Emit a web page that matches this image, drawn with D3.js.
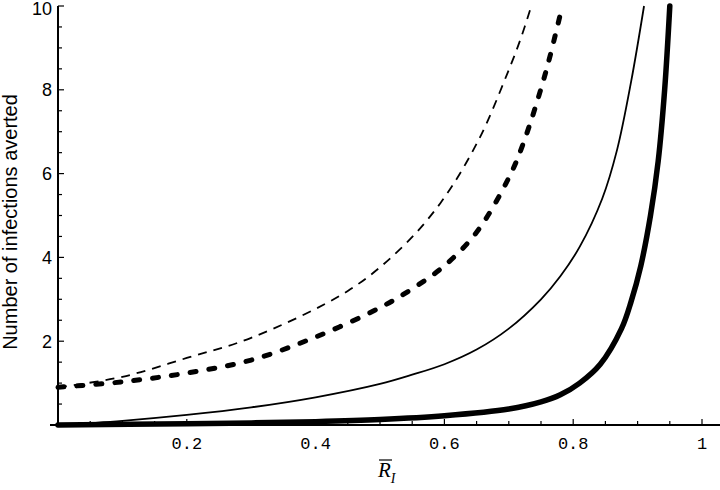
<!DOCTYPE html>
<html>
<head>
<meta charset="utf-8">
<script src="https://cdn.jsdelivr.net/npm/d3@7"></script>
<style>
  body { margin: 0; background: #fff; }
  svg { display: block; }
</style>
</head>
<body>
<div id="chart"></div>
<script>
// values, curve by curve
var xThinDash  = [0, 0.1, 0.2, 0.3, 0.45, 0.53, 0.594, 0.653, 0.698, 0.718, 0.735];
var yThinDash  = [0.9, 1.15, 1.6, 2.08, 3.2, 4.18, 5.3, 6.8, 8.4, 9.2, 10];

var xThickDash = [0, 0.1, 0.2, 0.3, 0.4, 0.5, 0.55, 0.6, 0.65, 0.7, 0.722, 0.757, 0.783];
var yThickDash = [0.9, 1.03, 1.24, 1.55, 2.1, 2.8, 3.25, 3.8, 4.6, 5.9, 6.7, 8.4, 10];

var xThinSolid = [0, 0.1, 0.2, 0.3, 0.4, 0.5, 0.55, 0.6, 0.65, 0.7, 0.75, 0.78, 0.81, 0.845, 0.868, 0.89, 0.91];
var yThinSolid = [0, 0.1, 0.24, 0.42, 0.66, 0.98, 1.2, 1.45, 1.8, 2.3, 3.0, 3.55, 4.25, 5.4, 6.56, 8.2, 10];

var xThickSolid = [0, 0.2, 0.3, 0.4, 0.5, 0.6, 0.7, 0.75, 0.78, 0.81, 0.842, 0.875, 0.89, 0.905, 0.92, 0.932, 0.942, 0.95];
var yThickSolid = [0, 0.03, 0.05, 0.08, 0.13, 0.22, 0.38, 0.55, 0.72, 1.0, 1.45, 2.3, 2.95, 3.8, 5.0, 6.3, 8.0, 10];

var xMajor = [0.2, 0.4, 0.6, 0.8, 1];
var xMajorLabels = ["0.2", "0.4", "0.6", "0.8", "1"];
var yMajor = [2, 4, 6, 8, 10];

var W = 720, H = 490;
var margin = {top: 6, right: 18, bottom: 65, left: 58},
  width = W - margin.left - margin.right,
  height = H - margin.top - margin.bottom;

var svg = d3.select("#chart")
  .append("svg")
  .attr("width", W)
  .attr("height", H)
  .append("g")
  .attr("transform", "translate(" + margin.left + "," + margin.top + ")");

var x = d3.scaleLinear().domain([0, 1]).range([0, width]);
var y = d3.scaleLinear().domain([0, 10]).range([height, 0]);

// x axis: line runs a bit past the y axis, ticks point up into the plot
var xMinor = d3.range(1, 21).map(function(i) { return i * 0.05; })
  .filter(function(v) { return xMajor.every(function(m) { return Math.abs(m - v) > 1e-6; }); });

svg.append("line")
  .attr("x1", -8).attr("x2", W - margin.left)
  .attr("y1", y(0)).attr("y2", y(0))
  .attr("stroke", "#000").attr("stroke-width", 2);

svg.selectAll(".xminor")
  .data(xMinor).enter().append("line")
  .attr("x1", function(d) { return x(d); }).attr("x2", function(d) { return x(d); })
  .attr("y1", y(0)).attr("y2", y(0) - 4)
  .attr("stroke", "#000").attr("stroke-width", 1.2);

svg.selectAll(".xmajor")
  .data(xMajor).enter().append("line")
  .attr("x1", function(d) { return x(d); }).attr("x2", function(d) { return x(d); })
  .attr("y1", y(0)).attr("y2", y(0) - 6)
  .attr("stroke", "#000").attr("stroke-width", 1.2);

svg.selectAll(".xlab")
  .data(xMajor).enter().append("text")
  .attr("x", function(d) { return x(d); })
  .attr("y", y(0) + 24)
  .attr("text-anchor", "middle")
  .attr("font-family", "Liberation Mono, DejaVu Sans Mono, monospace")
  .attr("font-size", "17px")
  .text(function(d, i) { return xMajorLabels[i]; });

// y axis, ticks point right into the plot
var yMinor = d3.range(1, 20).map(function(i) { return i * 0.5; })
  .filter(function(v) { return v % 2 !== 0; });

svg.append("line")
  .attr("x1", x(0)).attr("x2", x(0))
  .attr("y1", y(0)).attr("y2", y(10))
  .attr("stroke", "#000").attr("stroke-width", 2);

svg.selectAll(".yminor")
  .data(yMinor).enter().append("line")
  .attr("x1", x(0)).attr("x2", x(0) + 4)
  .attr("y1", function(d) { return y(d); }).attr("y2", function(d) { return y(d); })
  .attr("stroke", "#000").attr("stroke-width", 1.2);

svg.selectAll(".ymajor")
  .data(yMajor).enter().append("line")
  .attr("x1", x(0)).attr("x2", x(0) + 6)
  .attr("y1", function(d) { return y(d); }).attr("y2", function(d) { return y(d); })
  .attr("stroke", "#000").attr("stroke-width", 1.2);

svg.selectAll(".ylab")
  .data(yMajor).enter().append("text")
  .attr("x", x(0) - 6)
  .attr("y", function(d) { return y(d) + (d === 10 ? 3 : 0); })   // top one sits a bit lower, like the original
  .attr("dy", "0.36em")
  .attr("text-anchor", "end")
  .attr("font-family", "Liberation Sans, Arial, sans-serif")
  .attr("font-size", "18px")
  .text(function(d) { return d; });

// axis titles
svg.append("text")
  .attr("transform", "translate(" + (17 - margin.left) + "," + 216 + ") rotate(-90)")
  .attr("text-anchor", "middle")
  .attr("font-family", "Liberation Sans, Arial, sans-serif")
  .attr("font-size", "20px")
  .text("Number of infections averted");

var xt = svg.append("text")
  .attr("x", 320)
  .attr("y", y(0) + 52)
  .attr("font-family", "Liberation Serif, DejaVu Serif, serif")
  .attr("font-style", "italic")
  .attr("font-size", "21px");
var rPart = xt.append("tspan").text("R");
xt.append("tspan").attr("dy", 6).attr("font-size", "14px").text("I");
// bar over the R
var rb = rPart.node().getBBox();
svg.append("line")
  .attr("x1", rb.x + 2).attr("x2", rb.x + rb.width + 1)
  .attr("y1", rb.y + 2).attr("y2", rb.y + 2)
  .attr("stroke", "#000").attr("stroke-width", 1.2);

// curves
var line = d3.line()
  .x(function(d) { return x(d[0]); })
  .y(function(d) { return y(d[1]); })
  .curve(d3.curveCatmullRom.alpha(0.5));

function pairs(xs, ys) { return xs.map(function(v, i) { return [v, ys[i]]; }); }

var curves = [
  {xs: xThinDash,  ys: yThinDash,  w: 1.8, dash: "9,7", cap: "butt"},
  {xs: xThickDash, ys: yThickDash, w: 5,   dash: "6,13", cap: "round"},
  {xs: xThinSolid, ys: yThinSolid, w: 1.8, dash: null, cap: "butt"},
  {xs: xThickSolid, ys: yThickSolid, w: 5.5, dash: null, cap: "round"}
];

svg.selectAll(".curve")
  .data(curves).enter().append("path")
  .attr("d", function(d) { return line(pairs(d.xs, d.ys)); })
  .attr("fill", "none")
  .attr("stroke", "#000")
  .attr("stroke-width", function(d) { return d.w; })
  .attr("stroke-linecap", function(d) { return d.cap; })
  .attr("stroke-dasharray", function(d) { return d.dash; });
</script>
</body>
</html>
